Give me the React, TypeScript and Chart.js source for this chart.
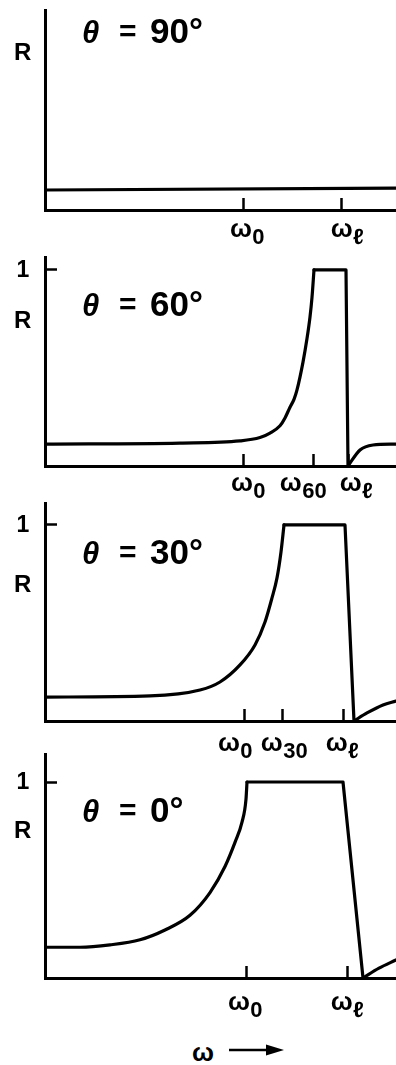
import React, { useEffect, useRef } from "react";
import { Chart, registerables } from "chart.js";

Chart.register(...registerables);

const FONT = "'Liberation Sans', 'DejaVu Sans', sans-serif";

// Frequency axis in units of ω0 (axis runs from 0 to the right edge).
const omegaMin = 0;
const omegaMax = 1.755;

// θ = 90°: reflectance stays low and flat.
const flat90W = [0, 1.755];
const flat90R = [0.102, 0.112];
const ticks90 = [0.99, 1.48];
const subs90 = ["0", "ℓ"];

// θ = 60°
const rise60W = [0, 0.675, 0.975, 1.075, 1.125, 1.175, 1.2, 1.225, 1.245, 1.26, 1.29, 1.31, 1.325, 1.335, 1.345];
const rise60R = [0.112, 0.117, 0.128, 0.145, 0.168, 0.205, 0.245, 0.3, 0.34, 0.388, 0.53, 0.65, 0.76, 0.86, 1.0];
const band60W = [1.345, 1.505, 1.515];
const band60R = [1, 1, 0];
const tail60W = [1.515, 1.575, 1.64, 1.755];
const tail60R = [0, 0.082, 0.107, 0.112];
const ticks60 = [0.99, 1.34, 1.515];
const subs60 = ["0", "60", "ℓ"];

// θ = 30°
const rise30W = [0, 0.525, 0.775, 0.875, 0.975, 1.05, 1.1, 1.135, 1.16, 1.18, 1.195];
const rise30R = [0.122, 0.128, 0.158, 0.199, 0.286, 0.388, 0.505, 0.628, 0.73, 0.862, 1.0];
const band30W = [1.195, 1.5, 1.545];
const band30R = [1, 1, 0];
const tail30W = [1.545, 1.61, 1.69, 1.755];
const tail30R = [0, 0.041, 0.082, 0.102];
const ticks30 = [0.995, 1.185, 1.49];
const subs30 = ["0", "30", "ℓ"];

// θ = 0°
const rise0W = [0, 0.175, 0.325, 0.475, 0.6, 0.725, 0.825, 0.9, 0.95, 0.985, 1.005, 1.01];
const rise0R = [0.157, 0.157, 0.169, 0.195, 0.245, 0.32, 0.436, 0.569, 0.692, 0.795, 0.913, 1.0];
const band0W = [1.01, 1.49, 1.59];
const band0R = [1, 1, 0];
const tail0W = [1.59, 1.67, 1.755];
const tail0R = [0, 0.05, 0.092];
const ticks0 = [1.005, 1.51];
const subs0 = ["0", "ℓ"];

type Series = { w: number[]; r: number[]; smooth: boolean };

type PanelSpec = {
  angle: string;
  series: Series[];
  ticks: number[];
  subs: string[];
  showOne: boolean;
  rMax: number;
  // layout / styling
  axisTop: number;
  plotHeight: number;
  labelDrop: number;
  labelShift: number[];
  titleY: number;
  rY: number;
};

const PAD_TOP = 4;
const X_AXIS_H = 48;
const Y_AXIS_W = 45;

const panels: PanelSpec[] = [
  {
    angle: "90",
    series: [{ w: flat90W, r: flat90R, smooth: false }],
    ticks: ticks90,
    subs: subs90,
    showOne: false,
    rMax: 1.02,
    axisTop: 10,
    plotHeight: 200,
    labelDrop: 27,
    labelShift: [4, 6],
    titleY: 30,
    rY: 52,
  },
  {
    angle: "60",
    series: [
      { w: rise60W, r: rise60R, smooth: true },
      { w: band60W, r: band60R, smooth: false },
      { w: tail60W, r: tail60R, smooth: true },
    ],
    ticks: ticks60,
    subs: subs60,
    showOne: true,
    rMax: 1.066,
    axisTop: 257,
    plotHeight: 209,
    labelDrop: 25,
    labelShift: [5, -10, 8],
    titleY: 303,
    rY: 320,
  },
  {
    angle: "30",
    series: [
      { w: rise30W, r: rise30R, smooth: true },
      { w: band30W, r: band30R, smooth: false },
      { w: tail30W, r: tail30R, smooth: true },
    ],
    ticks: ticks30,
    subs: subs30,
    showOne: true,
    rMax: 1.112,
    axisTop: 503,
    plotHeight: 218,
    labelDrop: 30,
    labelShift: [-9, 2, -1],
    titleY: 551,
    rY: 584,
  },
  {
    angle: "0",
    series: [
      { w: rise0W, r: rise0R, smooth: true },
      { w: band0W, r: band0R, smooth: false },
      { w: tail0W, r: tail0R, smooth: true },
    ],
    ticks: ticks0,
    subs: subs0,
    showOne: true,
    rMax: 1.143,
    axisTop: 754,
    plotHeight: 224,
    labelDrop: 32,
    labelShift: [-1, 0],
    titleY: 809,
    rY: 830,
  },
];

// Tick labels: ω with a large subscript under each x tick, and "1" beside each y tick.
const axisLabels = {
  id: "axisLabels",
  afterDraw(chart: any, _args: any, opts: any) {
    const xs = chart.scales.x;
    const ys = chart.scales.y;
    const ctx = chart.ctx as CanvasRenderingContext2D;
    const base = xs.top + opts.drop;
    ctx.save();
    ctx.fillStyle = "#000";
    ctx.textBaseline = "alphabetic";
    ctx.textAlign = "left";
    xs.ticks.forEach((t: any, i: number) => {
      const sub = opts.subs[i] ?? "";
      ctx.font = `bold 26px ${FONT}`;
      const w1 = ctx.measureText("ω").width;
      ctx.font = `bold 22px ${FONT}`;
      const w2 = ctx.measureText(sub).width;
      const cx = xs.getPixelForValue(t.value) + (opts.shift[i] ?? 0);
      const left = cx - (w1 + w2) / 2;
      ctx.font = `bold 26px ${FONT}`;
      ctx.fillText("ω", left, base);
      ctx.font = `bold 22px ${FONT}`;
      ctx.fillText(sub, left + w1 + 0.5, base + 7);
    });
    ctx.textAlign = "center";
    ctx.textBaseline = "middle";
    ctx.font = `bold 23px ${FONT}`;
    ys.ticks.forEach((t: any) => {
      ctx.fillText(String(t.value), 23, ys.getPixelForValue(t.value) + 1);
    });
    ctx.restore();
  },
};

function Panel({ spec }: { spec: PanelSpec }) {
  const ref = useRef<HTMLCanvasElement>(null);
  const height = PAD_TOP + spec.plotHeight + X_AXIS_H;

  useEffect(() => {
    const canvas = ref.current;
    if (!canvas) return;
    const axisGrid = {
      display: true,
      drawOnChartArea: false,
      drawTicks: true,
      tickLength: -12,
      tickWidth: 2.5,
      tickColor: "#000",
    };
    const axisBorder = { display: true, color: "#000", width: 3 };
    const chart = new Chart(canvas, {
      type: "line",
      data: {
        datasets: spec.series.map((s) => ({
          data: s.w.map((w, i) => ({ x: w, y: s.r[i] })),
          borderColor: "#000",
          borderWidth: 3.2,
          pointRadius: 0,
          fill: false,
          tension: 0,
          cubicInterpolationMode: s.smooth ? "monotone" : "default",
          borderJoinStyle: "round",
          borderCapStyle: "round",
        })),
      },
      options: {
        responsive: false,
        animation: false,
        events: [],
        layout: { padding: { top: PAD_TOP, left: 0, right: 0, bottom: 0 } },
        plugins: {
          legend: { display: false },
          tooltip: { enabled: false },
          axisLabels: {
            subs: spec.subs,
            shift: spec.labelShift,
            drop: spec.labelDrop,
          },
        } as any,
        scales: {
          x: {
            type: "linear",
            min: omegaMin,
            max: omegaMax,
            afterBuildTicks: (axis: any) => {
              axis.ticks = spec.ticks.map((v) => ({ value: v }));
            },
            afterFit: (axis: any) => {
              axis.height = X_AXIS_H;
            },
            ticks: { display: false },
            grid: axisGrid,
            border: axisBorder,
          },
          y: {
            type: "linear",
            min: 0,
            max: spec.rMax,
            afterBuildTicks: (axis: any) => {
              axis.ticks = spec.showOne ? [{ value: 1 }] : [];
            },
            afterFit: (axis: any) => {
              axis.width = Y_AXIS_W;
            },
            ticks: { display: false },
            grid: axisGrid,
            border: axisBorder,
          },
        } as any,
      },
      plugins: [axisLabels as any],
    });
    return () => chart.destroy();
  }, [spec]);

  return (
    <>
      <canvas
        ref={ref}
        width={396}
        height={height}
        style={{
          position: "absolute",
          left: 0,
          top: spec.axisTop - PAD_TOP,
          width: 396,
          height,
        }}
      />
      <div
        style={{
          position: "absolute",
          left: 14,
          top: spec.rY - 12,
          fontSize: 24,
          lineHeight: "24px",
          fontWeight: "bold",
          color: "#000",
        }}
      >
        R
      </div>
      <div
        style={{
          position: "absolute",
          left: 82,
          top: spec.titleY - 17,
          fontSize: 35,
          lineHeight: "35px",
          fontWeight: "bold",
          color: "#000",
          whiteSpace: "nowrap",
        }}
      >
        <i style={{ fontSize: 31 }}>θ</i>
        <span style={{ position: "absolute", left: 37, top: 0, fontSize: 30 }}>=</span>
        <span style={{ position: "absolute", left: 68, top: 0 }}>
          {spec.angle}°
        </span>
      </div>
    </>
  );
}

export default function App() {
  return (
    <div
      style={{
        position: "absolute",
        left: 0,
        top: 0,
        width: 396,
        height: 1065,
        background: "#fff",
        fontFamily: FONT,
        overflow: "hidden",
      }}
    >
      {panels.map((p) => (
        <Panel key={p.angle} spec={p} />
      ))}
      <div
        style={{
          position: "absolute",
          left: 192,
          top: 1039,
          fontSize: 26,
          lineHeight: "26px",
          fontWeight: "bold",
          color: "#000",
        }}
      >
        ω
      </div>
      <svg
        width={58}
        height={14}
        style={{ position: "absolute", left: 228, top: 1043 }}
      >
        <line x1={1} y1={7} x2={44} y2={7} stroke="#000" strokeWidth={2.5} />
        <polygon points="38,1.5 56,7 38,12.5" fill="#000" />
      </svg>
    </div>
  );
}
